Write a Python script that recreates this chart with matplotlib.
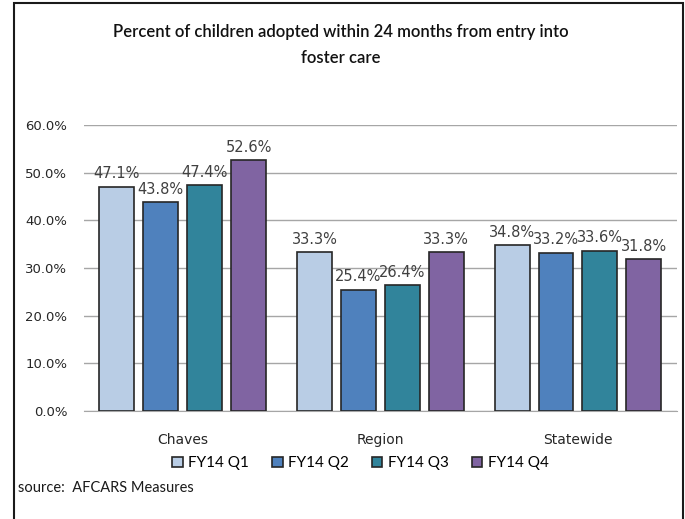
import matplotlib
matplotlib.use("Agg")
from matplotlib import pyplot as plt
from matplotlib.patches import Rectangle
import numpy as np

# Percent of children adopted within 24 months, by area and quarter
areas = ['Chaves', 'Region', 'Statewide']
quarters = ['FY14 Q1', 'FY14 Q2', 'FY14 Q3', 'FY14 Q4']
q1 = [47.1, 33.3, 34.8]
q2 = [43.8, 25.4, 33.2]
q3 = [47.4, 26.4, 33.6]
q4 = [52.6, 33.3, 31.8]
series = [q1, q2, q3, q4]
colors = ['#B9CDE5', '#4F81BD', '#31849B', '#8064A2']
y_ticks = [0, 10, 20, 30, 40, 50, 60]

narrow = ['Lato', 'DejaVu Sans']

fig = plt.figure(figsize=(6.85, 5.19), dpi=100)
ax = fig.add_axes([0.1226, 0.208, 0.8654, 0.551])

x = np.arange(len(areas))
width = 0.177
step = 0.2225
for i, (vals, col, lab) in enumerate(zip(series, colors, quarters)):
    pos = x + (i - 1.5) * step
    bars = ax.bar(pos, vals, width, color=col, edgecolor='#262626', linewidth=1.2, label=lab, zorder=3)
    for b, v in zip(bars, vals):
        ax.annotate(f'{v:.1f}%', (b.get_x() + b.get_width() / 2, v), xytext=(0, 4),
                    textcoords='offset points', ha='center', va='bottom',
                    fontsize=10.5, color='#404040', zorder=4)

ax.set_xlim(-0.5, 2.5)
ax.set_ylim(0, 60)
ax.set_yticks(y_ticks)
ax.set_yticklabels([f'{t:.1f}%' for t in y_ticks], fontsize=9.5, color='#262626')
ax.set_xticks(x)
ax.set_xticklabels(areas, fontsize=10, color='#262626')
ax.tick_params(axis='y', length=0, pad=12)
ax.tick_params(axis='x', length=0, pad=16)
ax.yaxis.grid(True, color='#A6A6A6', linewidth=1, zorder=0)
for s in ['left', 'right', 'top']:
    ax.spines[s].set_visible(False)
ax.spines['bottom'].set_color('#A6A6A6')

fig.text(0.497, 0.913, 'Percent of children adopted within 24 months from entry into\nfoster care',
         ha='center', va='center', fontsize=12, family=narrow, color='#111111',
         fontweight='semibold', linespacing=1.75)

ax.legend(loc='center', bbox_to_anchor=(0.466, -0.183), ncol=4, frameon=False,
          prop={'family': narrow, 'size': 11}, handlelength=0.7, handleheight=0.7,
          handletextpad=0.35, columnspacing=1.5)

fig.text(18 / 685, 1 - 488 / 519, 'source:  AFCARS Measures', ha='left', va='center',
         fontsize=10.5, family=narrow, color='#1a1a1a')

fig.patches.append(Rectangle((14 / 685, -0.05), (683 - 14) / 685, 1.05 - 3 / 519,
                             transform=fig.transFigure, fill=False, edgecolor='#1a1a1a',
                             linewidth=1.5))

fig.savefig('out.png', dpi=100)
